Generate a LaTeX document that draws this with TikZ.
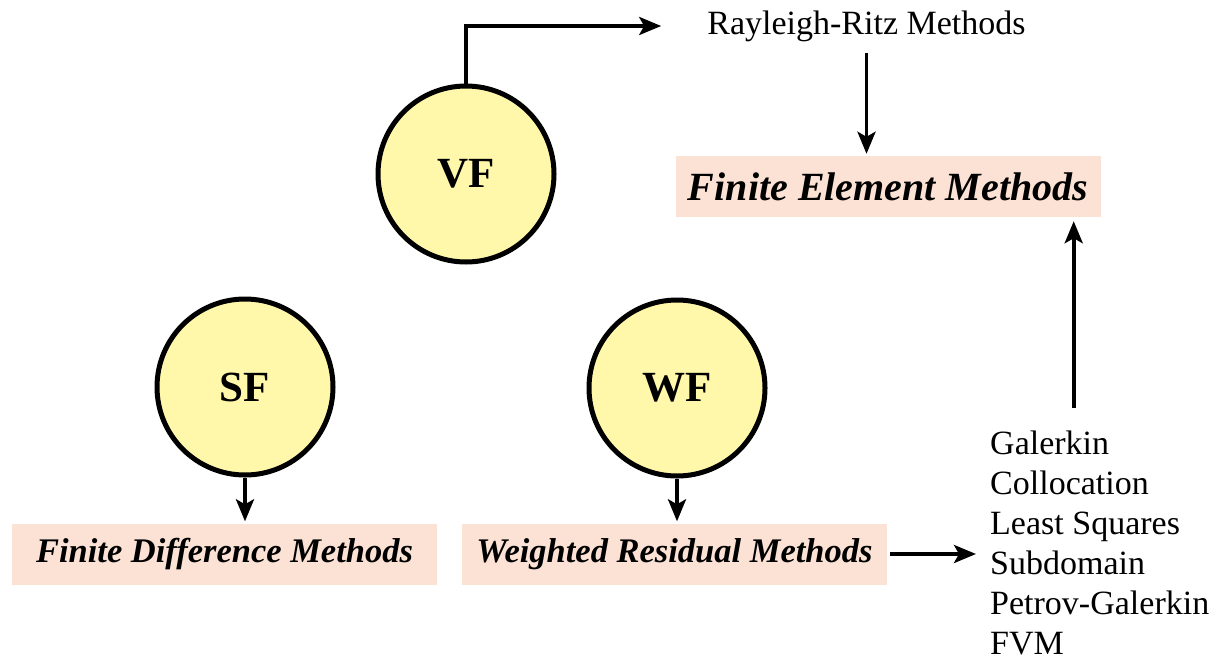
\documentclass[tikz,border=0pt]{standalone}
\usepackage{fontspec}
\setmainfont{Liberation Serif}
\usetikzlibrary{arrows.meta}
\definecolor{circfill}{RGB}{255,248,170}
\definecolor{boxfill}{RGB}{252,226,213}
\begin{document}
\begin{tikzpicture}[x=1pt,y=-1pt,
  form/.style={circle, draw, line width=5pt, fill=circfill, minimum size=176pt,
    inner sep=0pt, font=\fontsize{43}{50}\selectfont\bfseries},
  method/.style={fill=boxfill, minimum width=425pt, minimum height=61pt, inner sep=0pt,
    font=\fontsize{34.5}{40}\selectfont\bfseries\itshape},
  plain/.style={inner sep=0pt, font=\fontsize{34}{40}\selectfont},
  arr/.style={line width=3.8pt, -{Stealth[length=22pt,width=18pt,inset=5pt]}}]
\useasboundingbox (0,0) rectangle (1222,661);

% formulations
\node[form] (vf) at (466,174) {VF};
\node[form] (sf) at (245,387) {SF};
\node[form] (wf) at (677,388) {WF};

% method families
\node[method, font=\fontsize{40}{48}\selectfont\bfseries\itshape] (fem) at (888,186.5) {Finite Element Methods};
\node[method] (fdm) at (224.5,554) {Finite Difference Methods};
\node[method] (wrm) at (674.5,554) {Weighted Residual Methods};

% plain labels
\node[plain] (rr) at (866.5,26) {Rayleigh-Ritz Methods};
\node[plain, align=left, anchor=north west] (list) at (990,431)
  {Galerkin\\Collocation\\Least Squares\\Subdomain\\Petrov-Galerkin\\FVM};

% connectors
\draw[arr, shorten >=46pt] (vf.north) |- (rr.west);
\draw[arr, shorten <=11pt, shorten >=2pt] (rr.south) -- (rr.south |- fem.north);
\draw[arr, shorten >=2pt] (sf.south) -- (sf.south |- fdm.north);
\draw[arr, shorten >=2pt] (wf.south) -- (wf.south |- wrm.north);
\draw[arr, shorten <=3pt, shorten >=14pt] (wrm.east) -- (wrm.east -| list.west);
\coordinate (up) at ([xshift=-27pt]fem.south east);
\draw[arr, shorten <=23pt, shorten >=4pt] (list.north -| up) -- (up);
\end{tikzpicture}
\end{document}
